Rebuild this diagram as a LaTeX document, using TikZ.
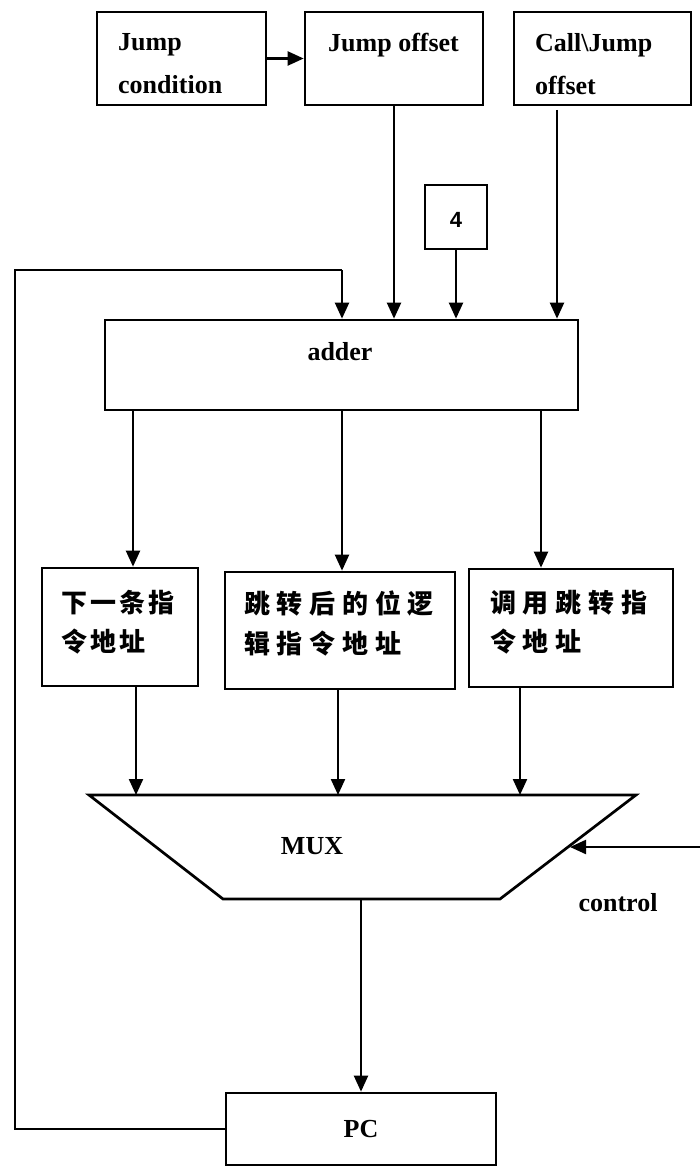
\documentclass[tikz,border=0pt]{standalone}
\usepackage{fontspec}
\setmainfont{Liberation Serif}
\newfontfamily\cjka{Noto Sans CJK SC}[LetterSpace=12]
\newfontfamily\cjkb{Noto Sans CJK SC}[LetterSpace=26]
\newfontfamily\numfont{Liberation Sans}
\usetikzlibrary{arrows.meta}
\begin{document}
\begin{tikzpicture}[x=1pt,y=-1pt,
  box/.style={draw, line width=2.7pt, inner sep=0pt},
  lbl/.style={inner sep=0pt, font=\fontsize{26}{30}\selectfont\bfseries},
  cn/.style={inner sep=0pt, anchor=west, font=\fontsize{26}{30}\selectfont\bfseries},
  con/.style={line width=2.2pt, -{Triangle[length=16pt,width=14pt]}},
  wire/.style={line width=2.2pt}]
\useasboundingbox (0,0) rectangle (700,1169);
\fill[white] (0,0) rectangle (700,1169);
% top boxes
\node[box, minimum width=169pt, minimum height=93pt] (jc) at (181.5,58.5) {};
\node[box, minimum width=178pt, minimum height=93pt] (jo) at (394,58.5) {};
\node[box, minimum width=177pt, minimum height=93pt] (cj) at (602.5,58.5) {};
\node[lbl, anchor=west] (jct1) at (118,45) {Jump};
\node[lbl, anchor=west] (jct2) at (118,85) {condition};
\node[lbl, anchor=west] (jot) at (328,45) {Jump offset};
\node[lbl, anchor=west] (cjt1) at (535,45) {Call\textbackslash Jump};
\node[lbl, anchor=west] (cjt2) at (535,85) {offset};
% constant 4
\node[box, minimum width=62pt, minimum height=64pt] (four) at (456,217) {};
\node[inner sep=0pt, font=\fontsize{22}{26}\selectfont\numfont\bfseries] (fourt) at (456,220) {4};
% adder
\node[box, minimum width=473pt, minimum height=90pt] (adder) at (341.5,365) {};
\node[lbl] (addert) at (340,352) {adder};
% middle boxes
\node[box, minimum width=156pt, minimum height=118pt] (b1) at (120,627) {};
\node[box, minimum width=230pt, minimum height=117pt] (b2) at (340,630.5) {};
\node[box, minimum width=204pt, minimum height=118pt] (b3) at (571,628) {};
\node[cn] (b1t1) at (61,603) {\cjka 下一条指};
\node[cn] (b1t2) at (61,642) {\cjka 令地址};
\node[cn] (b2t1) at (244,603) {\cjkb 跳转后的位逻};
\node[cn] (b2t2) at (244,644) {\cjkb 辑指令地址};
\node[cn] (b3t1) at (490,603) {\cjkb 调用跳转指};
\node[cn] (b3t2) at (490,642) {\cjkb 令地址};
% MUX
\coordinate (mtl) at (89,795);
\coordinate (mtr) at (636,795);
\coordinate (mbr) at (500,899);
\coordinate (mbl) at (223,899);
\draw[line width=2.7pt, line join=miter] (mtl) -- (mtr) -- (mbr) -- (mbl) -- cycle;
\node[lbl] (muxt) at (312,846) {MUX};
\node[lbl] (ctrlt) at (618,903) {control};
% PC
\node[box, minimum width=270pt, minimum height=72pt] (pc) at (361,1129) {};
\node[lbl] (pct) at (361,1129) {PC};
% connectors
\draw[con] (jc.east) -- (jo.west);
\draw[con] (jo.south) -- (jo.south |- adder.north);
\coordinate (cjout) at (557,110);
\draw[con] (cjout) -- (cjout |- adder.north);
\draw[con] (four.south) -- (four.south |- adder.north);
\coordinate (fb1) at (15,1129);
\coordinate (fb2) at (15,270);
\coordinate (fb3) at (342,270);
\draw[wire] (pc.west) -- (fb1) -- (fb2) -- (fb3);
\draw[con] (fb3) -- (fb3 |- adder.north);
\coordinate (a1) at (133,0);
\coordinate (a2) at (342,0);
\coordinate (a3) at (541,0);
\draw[con] (a1 |- adder.south) -- (a1 |- b1.north);
\draw[con] (a2 |- adder.south) -- (a2 |- b2.north);
\draw[con] (a3 |- adder.south) -- (a3 |- b3.north);
\coordinate (m1) at (136,0);
\coordinate (m2) at (338,0);
\coordinate (m3) at (520,0);
\draw[con] (m1 |- b1.south) -- (m1 |- mtl);
\draw[con] (m2 |- b2.south) -- (m2 |- mtl);
\draw[con] (m3 |- b3.south) -- (m3 |- mtl);
\coordinate (ctrl) at (700,847);
\coordinate (ctrltip) at (570,847);
\draw[con] (ctrl) -- (ctrltip);
\draw[con] (pc.north |- mbl) -- (pc.north);
\end{tikzpicture}
\end{document}
